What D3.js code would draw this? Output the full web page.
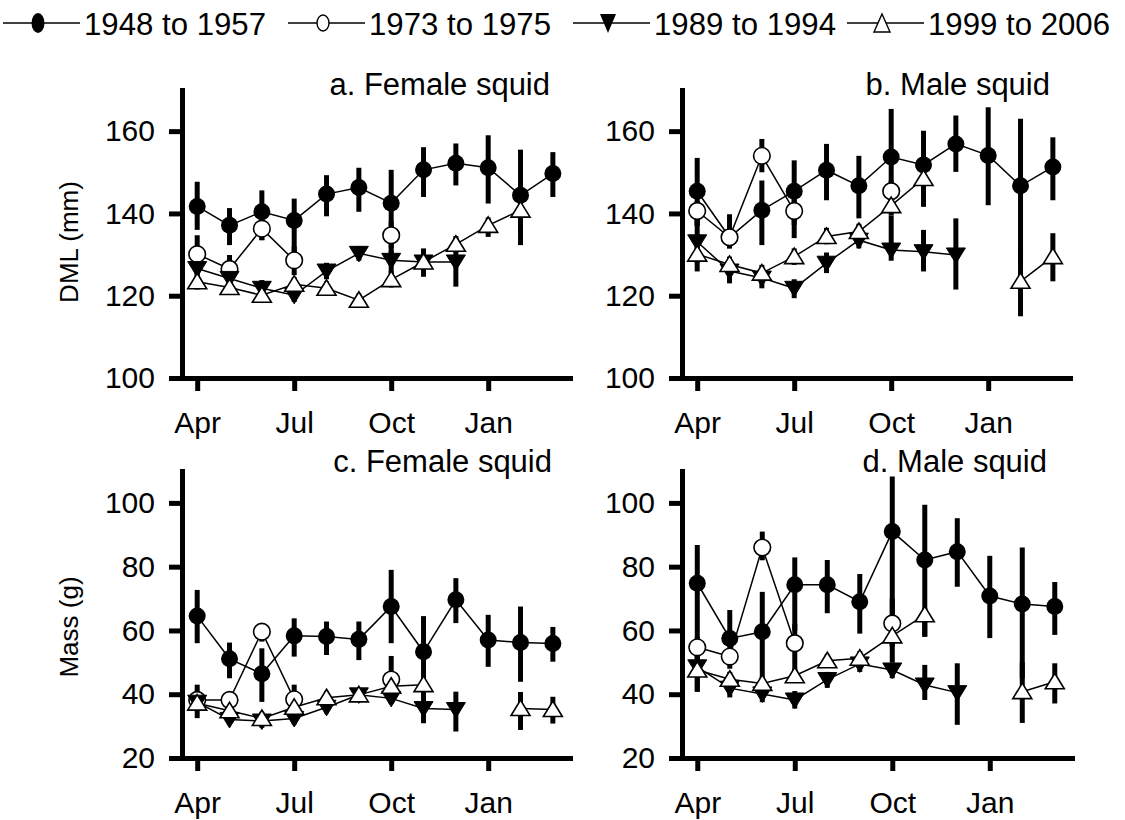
<!DOCTYPE html>
<html><head><meta charset="utf-8">
<script src="https://cdn.jsdelivr.net/npm/d3@7"></script>
<style>
body{margin:0;background:#fff}
svg{display:block}
text{font-family:"Liberation Sans",Arial,Helvetica,sans-serif;fill:#000}
</style>
</head><body>
<svg id="chart" width="1125" height="820"></svg>
<script>
// ---------- DATA ----------
const months = ["Apr","May","Jun","Jul","Aug","Sep","Oct","Nov","Dec","Jan","Feb","Mar"];
const tickMonths = ["Apr","Jul","Oct","Jan"];
const seriesNames = ["1948 to 1957","1973 to 1975","1989 to 1994","1999 to 2006"];
const panelTitles = ["a. Female squid","b. Male squid","c. Female squid","d. Male squid"];
const dmlTicks = [100,120,140,160];
const massTicks = [20,40,60,80,100];
const N = null;

// a. Female DML (mm)
const aS1   = [141.7,137.1,140.4,138.3,144.7,146.3,142.5,150.6,152.2,151.1,144.4,149.7];
const aS1Lo = [136.0,132.3,133.5,127.0,139.3,140.4,129.0,144.0,146.8,142.4,132.3,144.0];
const aS1Hi = [147.7,141.3,145.6,143.6,149.3,151.1,150.6,156.1,157.0,159.0,155.5,154.9];
const aS2   = [130.1,126.5,136.3,128.6,N,N,134.7,N,N,N,N,N];
const aS2Lo = [127.0,123.0,133.5,125.0,N,N,131.5,N,N,N,N,N];
const aS2Hi = [134.7,129.9,139.0,132.0,N,N,138.0,N,N,N,N,N];
const aS3   = [126.6,124.2,121.8,120.1,126.0,130.3,128.6,128.2,128.2,N,N,N];
const aS3Lo = [124.0,122.0,120.0,118.5,124.0,128.5,125.5,124.6,122.2,N,N,N];
const aS3Hi = [129.0,126.5,123.8,122.0,128.0,132.0,131.0,131.5,134.0,N,N,N];
const aS4   = [123.4,122.0,120.1,122.8,121.8,118.9,123.9,128.2,132.5,137.1,140.8,N];
const aS4Lo = [121.5,120.5,118.8,121.0,120.0,117.5,122.0,126.0,130.5,134.3,136.0,N];
const aS4Hi = [125.5,124.0,121.5,124.5,123.5,120.5,126.0,130.5,134.5,139.0,145.0,N];

// b. Male DML (mm)
const bS1   = [145.4,134.2,140.8,145.4,150.5,146.7,153.7,151.8,156.9,154.1,146.7,151.3];
const bS1Lo = [137.0,131.5,132.3,137.2,143.2,138.8,142.0,141.6,150.1,142.0,128.0,143.2];
const bS1Hi = [153.5,139.8,148.0,152.9,156.9,154.0,165.4,160.1,163.8,165.8,163.0,158.5];
const bS2   = [140.6,134.2,154.0,140.6,N,N,145.4,N,N,N,N,N];
const bS2Lo = [137.0,131.5,150.0,134.0,N,N,142.5,N,N,N,N,N];
const bS2Hi = [143.0,137.0,158.1,143.5,N,N,148.0,N,N,N,N,N];
const bS3   = [133.1,126.0,124.3,121.8,127.9,133.5,131.1,130.7,129.9,N,N,N];
const bS3Lo = [125.9,123.0,121.8,119.4,125.5,131.5,128.5,125.9,121.5,N,N,N];
const bS3Hi = [139.6,128.5,126.5,124.0,130.5,135.5,139.5,136.0,138.8,N,N,N];
const bS4   = [130.1,127.6,125.5,129.5,134.4,135.6,141.9,148.5,N,N,123.5,129.5];
const bS4Lo = [128.0,125.5,123.5,127.5,132.5,133.5,139.5,145.0,N,N,115.0,123.5];
const bS4Hi = [132.0,129.5,127.5,131.5,136.5,137.5,144.0,151.0,N,N,131.0,135.2];

// c. Female mass (g)
const cS1   = [64.5,51.1,46.4,58.3,58.1,57.2,67.5,53.3,69.6,57.0,56.2,55.9];
const cS1Lo = [56.0,45.0,37.6,51.8,52.3,50.7,56.0,44.0,62.3,48.6,43.9,50.2];
const cS1Hi = [72.7,56.2,54.4,63.8,62.8,62.8,79.0,64.5,76.4,64.9,67.5,61.1];
const cS2   = [38.2,38.2,59.6,38.4,N,N,44.6,N,N,N,N,N];
const cS2Lo = [35.5,36.0,56.5,35.5,N,N,41.0,N,N,N,N,N];
const cS2Hi = [41.0,40.5,61.5,43.0,N,N,52.0,N,N,N,N,N];
const cS3   = [37.5,32.1,31.6,32.4,35.9,39.8,38.7,35.5,35.2,N,N,N];
const cS3Lo = [32.5,30.5,29.5,30.5,34.0,38.0,37.0,30.9,28.3,N,N,N];
const cS3Hi = [43.0,34.0,33.5,34.5,38.0,41.5,41.0,41.0,40.8,N,N,N];
const cS4   = [37.2,34.8,32.4,35.9,38.9,39.8,42.5,43.0,N,N,35.5,35.2];
const cS4Lo = [35.0,33.0,30.5,34.0,37.0,38.0,41.0,41.0,N,N,28.8,30.8];
const cS4Hi = [39.5,36.5,34.5,38.0,41.0,41.5,44.5,45.0,N,N,40.7,39.2];

// d. Male mass (g)
const dS1   = [74.8,57.5,59.6,74.3,74.3,69.0,91.0,82.1,84.7,70.8,68.3,67.5];
const dS1Lo = [40.8,48.0,44.0,60.0,65.4,59.0,50.0,58.1,73.7,57.6,45.0,58.6];
const dS1Hi = [86.8,66.4,72.1,82.9,82.1,77.7,108.3,99.4,95.2,83.4,86.0,75.2];
const dS2   = [54.7,51.8,86.0,56.0,N,N,62.2,N,N,N,N,N];
const dS2Lo = [51.0,49.0,82.0,45.0,N,N,55.0,N,N,N,N,N];
const dS2Hi = [58.0,54.5,91.0,62.0,N,N,70.0,N,N,N,N,N];
const dS3   = [48.6,41.9,40.1,38.2,44.6,49.5,47.6,42.9,40.5,N,N,N];
const dS3Lo = [40.8,39.0,37.5,35.5,42.0,47.0,45.0,38.2,30.4,N,N,N];
const dS3Hi = [52.0,44.5,43.0,41.0,47.0,52.0,50.0,49.2,49.7,N,N,N];
const dS4   = [47.6,44.7,43.4,45.8,50.5,51.3,58.3,64.9,N,N,40.8,43.9];
const dS4Lo = [45.5,42.5,41.5,44.0,48.5,49.5,55.0,58.0,N,N,31.0,37.1];
const dS4Hi = [50.0,47.0,45.5,48.0,52.5,53.5,61.0,67.0,N,N,50.0,49.7];

// ---------- LAYOUT ----------
const panels = [
  {title:panelTitles[0], x0:182, x1:570, yTop:90,  yBot:378, dom:[100,170], ticks:dmlTicks, tx:550, ty:95,
   series:[[aS1,aS1Lo,aS1Hi],[aS2,aS2Lo,aS2Hi],[aS3,aS3Lo,aS3Hi],[aS4,aS4Lo,aS4Hi]]},
  {title:panelTitles[1], x0:682, x1:1070, yTop:90, yBot:378, dom:[100,170], ticks:dmlTicks, tx:1050, ty:95,
   series:[[bS1,bS1Lo,bS1Hi],[bS2,bS2Lo,bS2Hi],[bS3,bS3Lo,bS3Hi],[bS4,bS4Lo,bS4Hi]]},
  {title:panelTitles[2], x0:182, x1:570, yTop:471, yBot:758, dom:[20,110], ticks:massTicks, tx:552, ty:472,
   series:[[cS1,cS1Lo,cS1Hi],[cS2,cS2Lo,cS2Hi],[cS3,cS3Lo,cS3Hi],[cS4,cS4Lo,cS4Hi]]},
  {title:panelTitles[3], x0:682, x1:1072, yTop:471, yBot:758, dom:[20,110], ticks:massTicks, tx:1047, ty:472,
   series:[[dS1,dS1Lo,dS1Hi],[dS2,dS2Lo,dS2Hi],[dS3,dS3Lo,dS3Hi],[dS4,dS4Lo,dS4Hi]]}
];

const svg = d3.select("#chart");
const triUp = "M0,-8.5L9.5,7L-9.5,7Z";
const triDown = "M0,8.5L9.5,-7L-9.5,-7Z";

function drawMarker(g, k, x, y) {
  if (k === 0) g.append("circle").attr("cx",x).attr("cy",y).attr("r",8.5).attr("fill","#000");
  else if (k === 1) g.append("circle").attr("cx",x).attr("cy",y).attr("r",8.3).attr("fill","#fff").attr("stroke","#000").attr("stroke-width",1.6);
  else if (k === 2) g.append("path").attr("d",triDown).attr("transform",`translate(${x},${y})`).attr("fill","#000").attr("stroke","#000").attr("stroke-width",1);
  else g.append("path").attr("d",triUp).attr("transform",`translate(${x},${y})`).attr("fill","#fff").attr("stroke","#000").attr("stroke-width",1.6);
}

panels.forEach(p => {
  const x = d3.scaleLinear().domain([-0.47, 11.53]).range([p.x0, p.x1]);
  const y = d3.scaleLinear().domain(p.dom).range([p.yBot, p.yTop]);
  const g = svg.append("g");

  // axes
  const yAx = g.append("g").attr("transform",`translate(${p.x0},0)`)
    .call(d3.axisLeft(y).tickValues(p.ticks).tickSize(13).tickSizeOuter(0).tickPadding(14).tickFormat(d3.format("d")));
  const xAx = g.append("g").attr("transform",`translate(0,${p.yBot})`)
    .call(d3.axisBottom(x).tickValues([0,3,6,9]).tickSize(13).tickSizeOuter(0).tickPadding(21)
      .tickFormat((d,i) => tickMonths[i]));
  [yAx, xAx].forEach(a => {
    a.select(".domain").attr("stroke","#000").attr("stroke-width",5).attr("stroke-linecap","square");
    a.selectAll(".tick line").attr("stroke","#000").attr("stroke-width",5);
    a.selectAll(".tick text").attr("font-size",30).attr("fill","#000")
      .style("font-family",'"Liberation Sans",Arial,sans-serif');
  });

  // title
  g.append("text").attr("x",p.tx).attr("y",p.ty).attr("text-anchor","end")
    .attr("font-size",31).text(p.title);

  // error bars
  p.series.forEach(([v,lo,hi]) => {
    v.forEach((val,i) => {
      if (val == null || lo[i] == null) return;
      g.append("line").attr("x1",x(i)).attr("x2",x(i)).attr("y1",y(lo[i])).attr("y2",y(hi[i]))
        .attr("stroke","#000").attr("stroke-width",5);
    });
  });
  // lines
  const line = d3.line().defined(d => d.v != null).x(d => x(d.i)).y(d => y(d.v));
  p.series.forEach(([v]) => {
    g.append("path").datum(v.map((val,i)=>({i, v:val}))).attr("d",line)
      .attr("fill","none").attr("stroke","#000").attr("stroke-width",1.5);
  });
  // markers
  p.series.forEach(([v],k) => {
    v.forEach((val,i) => { if (val != null) drawMarker(g, k, x(i), y(val)); });
  });
});

// y labels
svg.append("text").attr("transform","translate(78,242) rotate(-90)").attr("text-anchor","middle")
  .attr("font-size",26).text("DML (mm)");
svg.append("text").attr("transform","translate(78,627) rotate(-90)").attr("text-anchor","middle")
  .attr("font-size",26).text("Mass (g)");

// legend
const legTextX = [84, 369, 654, 928];
const lg = svg.append("g");
seriesNames.forEach((name,k) => {
  const tx = legTextX[k];
  lg.append("line").attr("x1",tx-81).attr("x2",tx-4).attr("y1",23).attr("y2",23)
    .attr("stroke","#000").attr("stroke-width",1.5);
  const mx = tx - 46;
  if (k === 0) lg.append("ellipse").attr("cx",mx).attr("cy",23).attr("rx",6.5).attr("ry",10).attr("fill","#000");
  else if (k === 1) lg.append("ellipse").attr("cx",mx).attr("cy",23).attr("rx",6).attr("ry",8).attr("fill","#fff").attr("stroke","#000").attr("stroke-width",1.4);
  else if (k === 2) lg.append("path").attr("d","M0,10L8,-9L-8,-9Z").attr("transform",`translate(${mx},23)`).attr("fill","#000");
  else lg.append("path").attr("d","M0,-9L8,9L-8,9Z").attr("transform",`translate(${mx},23)`).attr("fill","#fff").attr("stroke","#000").attr("stroke-width",1.4);
  lg.append("text").attr("x",tx).attr("y",35).attr("font-size",32)
    .attr("textLength",182).attr("lengthAdjust","spacingAndGlyphs").text(name);
});
</script>
</body></html>
